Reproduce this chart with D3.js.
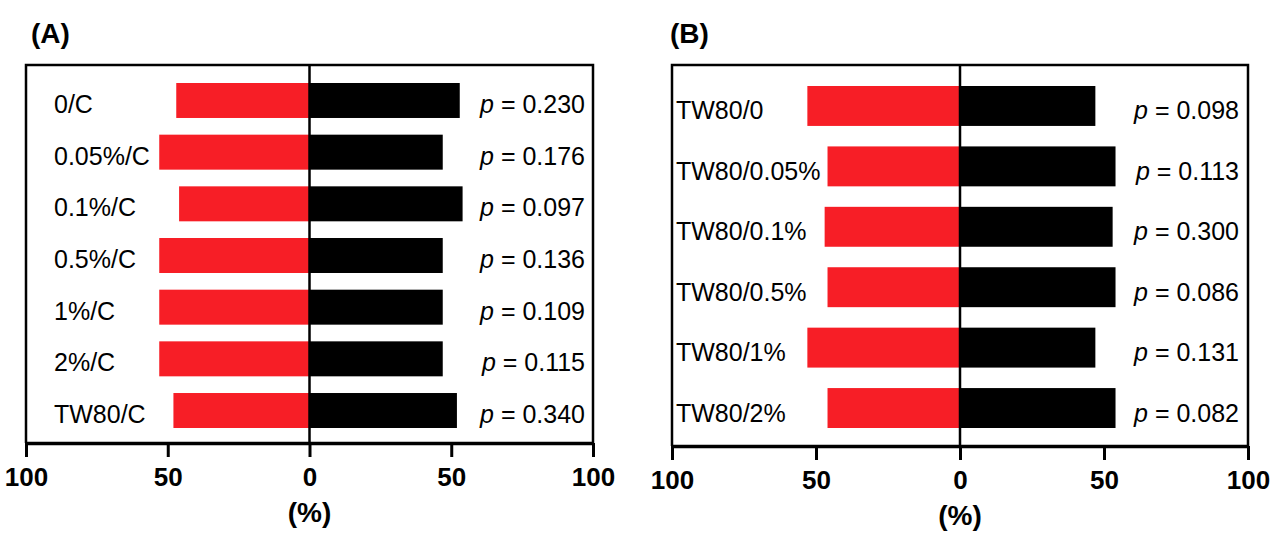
<!DOCTYPE html>
<html>
<head>
<meta charset="utf-8">
<script src="https://cdn.jsdelivr.net/npm/d3@7"></script>
<style>
  html, body { margin: 0; padding: 0; background: #fff; }
  svg { display: block; }
  text { font-family: "Liberation Sans", Arial, sans-serif; fill: #000; }
</style>
</head>
<body>
<svg id="chart" width="1282" height="552"></svg>
<script>
// ---- Data ----
const categoriesA = ["0/C", "0.05%/C", "0.1%/C", "0.5%/C", "1%/C", "2%/C", "TW80/C"];
const redA   = [47, 53, 46, 53, 53, 53, 48];
const blackA = [53, 47, 54, 47, 47, 47, 52];
const pA     = ["0.230", "0.176", "0.097", "0.136", "0.109", "0.115", "0.340"];

const categoriesB = ["TW80/0", "TW80/0.05%", "TW80/0.1%", "TW80/0.5%", "TW80/1%", "TW80/2%"];
const redB   = [53, 46, 47, 46, 53, 46];
const blackB = [47, 54, 53, 54, 47, 54];
const pB     = ["0.098", "0.113", "0.300", "0.086", "0.131", "0.082"];

const tickValues = [-100, -50, 0, 50, 100];
const axisTitle = "(%)";
const panelTitles = ["(A)", "(B)"];

const RED = "#f71e26";
const svg = d3.select("#chart");

function drawPanel(cfg) {
  const g = svg.append("g");
  const x = d3.scaleLinear().domain([-100, 100]).range([cfg.left, cfg.right]);
  const y = d3.scaleBand().domain(cfg.cats).range([cfg.barTop, cfg.barBottom])
    .paddingInner(cfg.padInner).paddingOuter(0);

  // title
  g.append("text").attr("x", cfg.titleX).attr("y", 43)
    .attr("font-size", 28).attr("font-weight", "bold").text(cfg.title);

  // frame (left, top, right)
  g.append("path")
    .attr("d", `M${cfg.left},${cfg.bottom} V${cfg.top} H${cfg.right} V${cfg.bottom}`)
    .attr("fill", "none").attr("stroke", "#000").attr("stroke-width", 2.5);

  // bars
  g.selectAll("rect.red").data(cfg.cats).join("rect").attr("class", "red")
    .attr("x", (d, i) => x(-cfg.red[i]))
    .attr("width", (d, i) => x(0) - x(-cfg.red[i]))
    .attr("y", d => y(d)).attr("height", y.bandwidth()).attr("fill", RED);
  g.selectAll("rect.black").data(cfg.cats).join("rect").attr("class", "black")
    .attr("x", x(0))
    .attr("width", (d, i) => x(cfg.black[i]) - x(0))
    .attr("y", d => y(d)).attr("height", y.bandwidth()).attr("fill", "#000");

  // zero line
  g.append("line").attr("x1", x(0)).attr("x2", x(0)).attr("y1", cfg.top).attr("y2", cfg.bottom)
    .attr("stroke", "#000").attr("stroke-width", 2.5);

  // category labels
  g.selectAll("text.cat").data(cfg.cats).join("text").attr("class", "cat")
    .attr("x", cfg.labelX).attr("y", d => y(d) + y.bandwidth() / 2 + cfg.textDy)
    .attr("font-size", 25).text(d => d);

  // p values
  const pt = g.selectAll("text.p").data(cfg.p).join("text").attr("class", "p")
    .attr("x", cfg.pRight).attr("y", (d, i) => y(cfg.cats[i]) + y.bandwidth() / 2 + cfg.textDy)
    .attr("text-anchor", "end").attr("font-size", 25);
  pt.append("tspan").attr("font-style", "italic").text("p");
  pt.append("tspan").text(d => " = " + d);

  // x axis
  const axis = d3.axisBottom(x).tickValues(tickValues)
    .tickFormat(d => Math.abs(d)).tickSize(14).tickSizeOuter(0).tickPadding(11);
  const ag = g.append("g").attr("transform", `translate(0,${cfg.bottom})`).call(axis);
  ag.select(".domain").attr("stroke", "#000").attr("stroke-width", 3.5);
  ag.selectAll(".tick line").attr("stroke", "#000").attr("stroke-width", 3);
  ag.selectAll(".tick text").attr("font-size", 26).attr("font-weight", "bold")
    .attr("font-family", "Liberation Sans, Arial, sans-serif").attr("fill", "#000");

  g.append("text").attr("x", x(0)).attr("y", cfg.bottom + 79)
    .attr("text-anchor", "middle").attr("font-size", 28).attr("font-weight", "bold")
    .text(axisTitle);
}

drawPanel({
  title: panelTitles[0], titleX: 31,
  cats: categoriesA, red: redA, black: blackA, p: pA,
  left: 26, right: 593, top: 65, bottom: 443,
  barTop: 83, barBottom: 428, padInner: 0.323,
  labelX: 54, pRight: 585, textDy: 12.5
});

drawPanel({
  title: panelTitles[1], titleX: 670,
  cats: categoriesB, red: redB, black: blackB, p: pB,
  left: 672, right: 1248, top: 65, bottom: 446,
  barTop: 86, barBottom: 428, padInner: 0.339,
  labelX: 676, pRight: 1239, textDy: 13.5
});
</script>
</body>
</html>
